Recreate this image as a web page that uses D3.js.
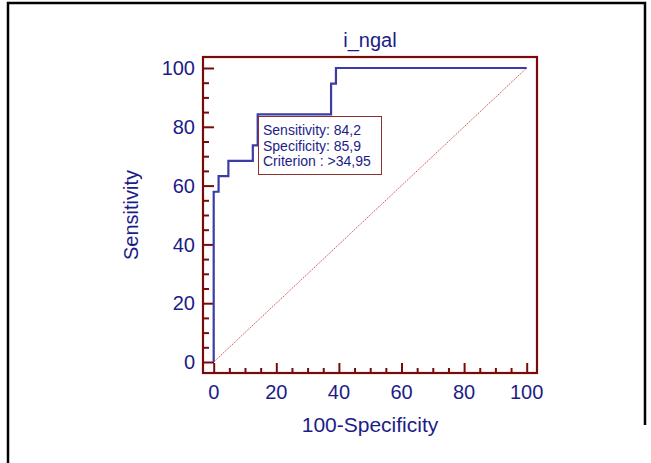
<!DOCTYPE html>
<html><head><meta charset="utf-8">
<script src="https://cdn.jsdelivr.net/npm/d3@7"></script>
<style>body{margin:0;background:#fff}svg{display:block}text{font-family:"Liberation Sans",Arial,sans-serif}</style>
</head><body>
<svg id="c" width="651" height="463"></svg>
<script>
const title = "i_ngal";
const xLabel = "100-Specificity";
const yLabel = "Sensitivity";
const rocX = [0, 0, 1.56, 1.56, 4.69, 4.69, 12.5, 12.5, 14.06, 14.06, 37.5, 37.5, 39.06, 39.06, 100];
const rocY = [0, 57.9, 57.9, 63.2, 63.2, 68.4, 68.4, 73.7, 73.7, 84.2, 84.2, 94.7, 94.7, 100, 100];
const majorTicks = [0, 20, 40, 60, 80, 100];
const minorTicks = d3.range(0, 101, 5);
const infoLines = ["Sensitivity: 84,2", "Specificity: 85,9", "Criterion : >34,95"];

const svg = d3.select("#c");
const navy = "#1c1c88", maroon = "#7a0a0a", curveCol = "#3c3ca6";
// outer border
svg.append("path").attr("d","M8,463 V3 H645 V425").attr("fill","none").attr("stroke","#000").attr("stroke-width",2.5);

const x = d3.scaleLinear().domain([0,100]).range([213.7,526.7]);
const y = d3.scaleLinear().domain([0,100]).range([362,68]);
const fL=203, fR=537, fT=57, fB=373;

// diagonal
svg.append("line").attr("x1",x(0)).attr("y1",y(0)).attr("x2",x(100)).attr("y2",y(100))
  .attr("stroke","#c03030").attr("stroke-width",0.8).attr("stroke-dasharray","1.5,1");

// ticks
const yAxisMinor = d3.axisRight(y).tickValues(minorTicks.filter(v=>v%20)).tickSize(6).tickFormat("");
const yAxisMajor = d3.axisRight(y).tickValues(majorTicks).tickSize(11).tickFormat("");
const xAxisMinor = d3.axisTop(x).tickValues(minorTicks.filter(v=>v%20)).tickSize(5).tickFormat("");
const xAxisMajor = d3.axisTop(x).tickValues(majorTicks).tickSize(10).tickFormat("");
[yAxisMinor,yAxisMajor].forEach(a=>{
  const g=svg.append("g").attr("transform",`translate(${fL},0)`).call(a);
  g.select(".domain").remove(); g.selectAll("line").attr("stroke",maroon).attr("stroke-width",2);
});
[xAxisMinor,xAxisMajor].forEach(a=>{
  const g=svg.append("g").attr("transform",`translate(0,${fB})`).call(a);
  g.select(".domain").remove(); g.selectAll("line").attr("stroke",maroon).attr("stroke-width",2);
});

// curve
const line = d3.line().x(d=>x(d[0])).y(d=>y(d[1]));
svg.append("path").datum(rocX.map((v,i)=>[v,rocY[i]])).attr("d",line)
  .attr("fill","none").attr("stroke",curveCol).attr("stroke-width",2.2);

// frame
svg.append("rect").attr("x",fL).attr("y",fT).attr("width",fR-fL).attr("height",fB-fT)
  .attr("fill","none").attr("stroke",maroon).attr("stroke-width",2.2);

// tick labels
svg.append("g").selectAll("text").data(majorTicks).join("text")
  .attr("x",195).attr("y",d=>y(d)).attr("dy","0.36em").attr("text-anchor","end")
  .attr("font-size",20).attr("fill",navy).text(d=>d);
svg.append("g").selectAll("text").data(majorTicks).join("text")
  .attr("x",d=>x(d)).attr("y",399).attr("text-anchor","middle")
  .attr("font-size",20).attr("fill",navy).text(d=>d);

// titles
svg.append("text").attr("x",370).attr("y",47).attr("text-anchor","middle").attr("font-size",20).attr("fill",navy).text(title);
svg.append("text").attr("x",370).attr("y",432).attr("text-anchor","middle").attr("font-size",21).attr("fill",navy).text(xLabel);
svg.append("text").attr("transform","translate(138,215) rotate(-90)").attr("text-anchor","middle").attr("font-size",20).attr("fill",navy).text(yLabel);

// info box
svg.append("rect").attr("x",258.5).attr("y",116.5).attr("width",123).attr("height",58)
  .attr("fill","#fff").attr("stroke","#8a3030").attr("stroke-width",1);
svg.append("g").selectAll("text").data(infoLines).join("text")
  .attr("x",263).attr("y",(d,i)=>135+i*15.5).attr("font-size",14).attr("fill",navy).text(d=>d);
</script>
</body></html>
